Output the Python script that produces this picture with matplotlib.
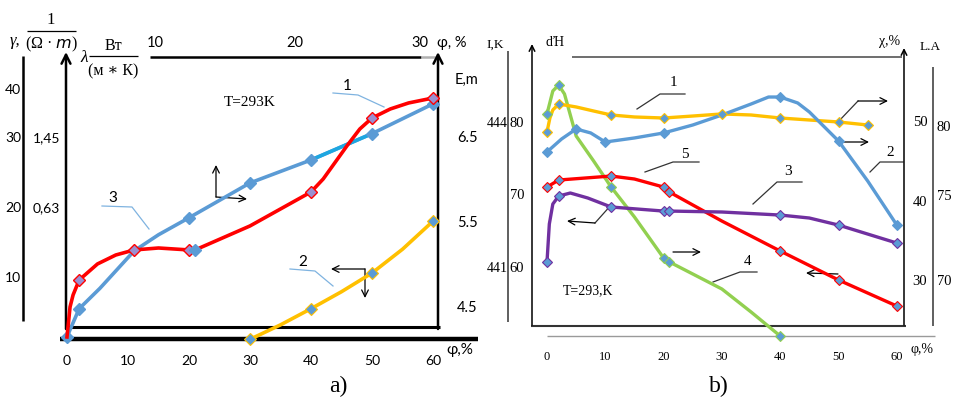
import numpy as np
import matplotlib.pyplot as plt

# ---------------- panel a) : values vs phi, % ----------------
# curve 3 (blue), read in E, m units (right scale)
phi_blue_a = [0, 2, 5.4, 11, 15, 20, 30, 40, 50, 60]
E_blue_a = [4.15, 4.48, 4.72, 5.16, 5.35, 5.55, 5.96, 6.23, 6.54, 6.89]
mark_blue_a = [0, 1, 5, 6, 7, 8, 9]

# curve 1 (red), read in gamma units (left scale)
phi_red_a = [0, 0.5, 1, 2, 5, 8, 11, 15, 20, 21, 30, 40, 42, 44, 46, 48, 50, 53, 56, 60]
g_red_a = [1.43, 5.71, 7.43, 9.57, 11.86, 13.14, 13.86, 14.14, 13.86, 13.86, 17.29,
           22.14, 24.0, 26.43, 28.86, 31.14, 32.71, 34.0, 34.86, 35.57]
mark_red_a = [3, 6, 8, 11, 16, 19]

# curve 2 (yellow), read in E, m units
phi_yel_a = [30, 35, 40, 45, 50, 55, 60]
E_yel_a = [4.12, 4.29, 4.48, 4.68, 4.90, 5.18, 5.51]
mark_yel_a = [0, 2, 4, 6]

x_ticks_a = [0, 10, 20, 30, 40, 50, 60]
top_ticks_a = ['10', '20', '30']
top_pos_a = [155, 295, 420]   # top scale drawn separately (pixels)
gamma_ticks = ['10', '20', '30', '40']
gamma_pos = [10, 20, 30, 36.9]
lam_ticks = ['0,63', '1,45']
lam_pos = [20, 30]
E_ticks = [4.5, 5.5, 6.5]

# ---------------- panel b) ----------------
# curves 1, 2, 4 read on the chi, % scale (right); 3, 5 on the dH scale (left)
phi_yel_b = [0, 0.5, 1, 2, 5, 8, 11, 15, 20, 25, 30, 35, 40, 50, 55]
chi_yel_b = [48.74, 50.5, 51.51, 52.26, 51.89, 51.38, 50.88, 50.63, 50.5, 50.75,
             51.01, 50.88, 50.5, 50.0, 49.62]
mark_yel_b = [0, 3, 6, 8, 10, 12, 13, 14]

phi_blue_b = [0, 2.5, 5, 7.5, 10, 15, 20, 25, 30, 35, 38, 40, 43, 45, 50, 55, 60]
chi_blue_b = [46.23, 47.86, 49.12, 48.62, 47.48, 47.99, 48.62, 49.62, 50.88, 52.26,
              53.14, 53.14, 52.39, 51.26, 47.61, 42.58, 37.04]
mark_blue_b = [0, 2, 4, 6, 11, 14, 16]

phi_grn_b = [0, 1, 2, 3, 5, 8, 11, 15, 20, 21, 25, 30, 35, 40]
chi_grn_b = [51.01, 53.9, 54.65, 53.52, 48.24, 45.09, 41.82, 38.05, 32.89, 32.39,
             30.88, 28.99, 26.1, 23.08]
mark_grn_b = [0, 2, 6, 8, 9, 13]

phi_red_b = [0, 2, 11, 15, 20, 21, 30, 40, 50, 60]
dH_red_b = [71.03, 72.0, 72.55, 72.14, 71.03, 70.34, 66.34, 62.21, 58.21, 54.62]
mark_red_b = [0, 1, 2, 4, 5, 7, 8, 9]

phi_pur_b = [0, 0.4, 1, 2, 4, 7, 11, 20, 21, 30, 40, 45, 50, 55, 60]
dH_pur_b = [60.69, 65.93, 68.69, 69.79, 70.21, 69.52, 68.28, 67.72, 67.72, 67.59,
            67.17, 66.76, 65.79, 64.55, 63.31]
mark_pur_b = [0, 3, 6, 7, 8, 10, 12, 14]

x_ticks_b = [0, 10, 20, 30, 40, 50, 60]
dH_ticks = [80, 70, 60]
IK_ticks = ['444', '441']
IK_pos = [80, 60]
chi_ticks = [50, 40, 30]
LA_ticks = ['80', '75', '70']
LA_pos = [49.4, 40.7, 30.0]

BLUE = '#5b9bd5'
RED = '#ff0000'
YEL = '#ffc000'
GRN = '#92d050'
PUR = '#7030a0'
CYAN = '#1ea7e1'
SANS = 'Lato'
SERIF = ['Liberation Serif', 'DejaVu Serif']

fig = plt.figure(figsize=(9.55, 4.06), dpi=100)

# decoration layer in pixel coordinates (y down)
deco = fig.add_axes([0, 0, 1, 1])
deco.set_xlim(0, 955)
deco.set_ylim(406, 0)
deco.axis('off')


def seg(x0, y0, x1, y1, lw=2, c='black'):
    deco.plot([x0, x1], [y0, y1], color=c, lw=lw, solid_capstyle='butt')


def arrow(x0, y0, x1, y1, lw=1.0, c='black', ms=14):
    deco.annotate('', xy=(x1, y1), xytext=(x0, y0),
                  arrowprops=dict(arrowstyle='->', lw=lw, color=c,
                                  mutation_scale=ms, shrinkA=0, shrinkB=0))


# ---- panel a frame ----
seg(23, 57, 23, 322, lw=1.8)
arrow(66, 330, 66, 53, lw=1.8, ms=16)
arrow(438, 330, 438, 53, lw=1.8, ms=16)
seg(150, 58, 421, 58, lw=1.8)
seg(421, 58, 436, 58, lw=1.8, c='#b0b0b0')
seg(65, 328, 440, 328, lw=2.2)
seg(60, 340, 478, 340, lw=3.2)

# header of panel a
deco.text(10, 41, 'γ,', fontsize=12, family=SERIF, style='italic', va='center')
deco.text(51, 20, '1', fontsize=12, family=SERIF, ha='center', va='center')
seg(27, 32, 76, 32, lw=0.9)
deco.text(51, 44, '(Ω · $m$)', fontsize=11.5, family=SERIF, ha='center', va='center')
deco.text(80, 58, 'λ', fontsize=12.5, family=SERIF, style='italic', va='center')
deco.text(113, 46, 'Вт', fontsize=11.5, family=SERIF, ha='center', va='center')
seg(89, 57, 138, 57, lw=0.9)
deco.text(113, 71, '(м ∗ К)', fontsize=11.5, family=SERIF, ha='center', va='center')
deco.text(250, 103, 'T=293K', fontsize=11, family=SERIF, ha='center', va='center')
deco.text(455, 80, 'E,m', fontsize=10.5, family=SANS, va='center')
deco.text(460, 350, 'φ,%', fontsize=11, family=SANS, ha='center', va='center')
for lab, p in zip(top_ticks_a, top_pos_a):
    deco.text(p, 43, lab, fontsize=10.5, family=SANS, ha='center', va='center')
deco.text(452, 43, 'φ, %', fontsize=10.5, family=SANS, ha='center', va='center')

# leader lines and arrows panel a
deco.plot([333, 358, 384], [94, 96, 108], color='#7fb3e0', lw=0.9)
deco.text(347, 86, '1', fontsize=11, family=SANS, ha='center', va='center')
deco.plot([102, 132, 149], [207, 208, 230], color='#7fb3e0', lw=0.9)
deco.text(113, 198, '3', fontsize=11, family=SANS, ha='center', va='center')
deco.plot([290, 315, 333], [270, 272, 287], color='#7fb3e0', lw=0.9)
deco.text(303, 262, '2', fontsize=11, family=SANS, ha='center', va='center')
arrow(216, 198, 216, 166, lw=0.9, ms=12)
arrow(216, 198, 247, 200, lw=0.9, ms=12)
arrow(365, 270, 331, 270, lw=0.9, ms=12)
arrow(365, 270, 365, 299, lw=0.9, ms=12)

# ---- panel b frame ----
seg(508, 52, 508, 323, lw=1.2, c='#444444')
arrow(532, 326, 532, 45, lw=1.1, ms=10)
arrow(904, 326, 904, 49, lw=1.1, ms=10)
seg(572, 58, 902, 58, lw=1.2, c='#555555')
seg(531, 327, 906, 327, lw=1.5, c='#333333')
seg(547, 337, 935, 337, lw=1.0, c='#9a9a9a')
seg(933, 68, 933, 327, lw=1.2, c='#444444')

deco.text(486, 45, 'I,K', fontsize=9.5, family=SERIF, va='center')
deco.text(545, 43, 'ďH', fontsize=10, family=SERIF, va='center')
deco.text(890, 42, 'χ,%', fontsize=10, family=SERIF, ha='center', va='center')
deco.text(920, 47, 'L.A', fontsize=9.5, family=SERIF, va='center')
deco.text(588, 291, 'T=293,K', fontsize=10, family=SERIF, ha='center', va='center')
deco.text(922, 350, 'φ,%', fontsize=10, family=SERIF, ha='center', va='center')

lead = '#333333'
deco.plot([637, 660, 685], [110, 95, 95], color=lead, lw=0.9)
deco.text(673, 82, '1', fontsize=11, family=SERIF, ha='center', va='center')
deco.plot([870, 880, 903], [173, 163, 163], color=lead, lw=0.9)
deco.text(890, 153, '2', fontsize=11, family=SERIF, ha='center', va='center')
deco.plot([753, 777, 802], [205, 183, 183], color=lead, lw=0.9)
deco.text(788, 172, '3', fontsize=11, family=SERIF, ha='center', va='center')
deco.plot([713, 740, 757], [283, 273, 273], color=lead, lw=0.9)
deco.text(748, 262, '4', fontsize=11, family=SERIF, ha='center', va='center')
deco.plot([645, 673, 699], [173, 163, 163], color=lead, lw=0.9)
deco.text(685, 155, '5', fontsize=11, family=SERIF, ha='center', va='center')

deco.plot([838, 858], [123, 102], color=lead, lw=0.9)
arrow(858, 102, 888, 102, lw=0.9, ms=12)
arrow(842, 143, 869, 143, lw=0.9, ms=12)
deco.plot([612, 595], [205, 224], color=lead, lw=0.9)
arrow(595, 224, 567, 222, lw=0.9, ms=12)
arrow(673, 253, 701, 253, lw=0.9, ms=12)
arrow(838, 275, 806, 274, lw=0.9, ms=12)

deco.text(338, 386, 'a)', fontsize=17, family=SERIF, ha='center', va='center')
deco.text(719, 386, 'b)', fontsize=17, family=SERIF, ha='center', va='center')

# ---------------- data axes panel a ----------------
axa = fig.add_axes([0, 0, 480 / 955, 1])
axa.set_xlim(-10.98, 67.70)
axa.set_ylim(3.347, 8.124)
axa.axis('off')
axg = axa.twinx()
axg.set_ylim(-8.29, 49.71)
axg.axis('off')

lw_a = 2.6
axa.plot(phi_blue_a, E_blue_a, color=BLUE, lw=lw_a, zorder=3)
axa.plot(phi_blue_a[7:9], E_blue_a[7:9], color=CYAN, lw=lw_a, zorder=3)
axa.plot(np.array(phi_blue_a)[mark_blue_a], np.array(E_blue_a)[mark_blue_a], 'D',
         color=BLUE, ms=6, zorder=5)
axa.plot(phi_yel_a, E_yel_a, color=YEL, lw=lw_a, zorder=3)
axa.plot(np.array(phi_yel_a)[mark_yel_a], np.array(E_yel_a)[mark_yel_a], 'D',
         mfc=BLUE, mec=YEL, mew=0.8, ms=6, zorder=5)
axg.plot(phi_red_a, g_red_a, color=RED, lw=lw_a, zorder=4)
axg.plot(np.array(phi_red_a)[mark_red_a], np.array(g_red_a)[mark_red_a], 'D',
         mfc='#9b8fd0', mec=RED, mew=1.0, ms=6.5, zorder=6)
axg.plot(phi_red_a[9], g_red_a[9], 'D', color=BLUE, ms=6, zorder=6)

for v in x_ticks_a:
    axa.text(v, 1 - 361 / 406, str(v), transform=axa.get_xaxis_transform(),
             fontsize=10, family=SANS, ha='center', va='center')
for lab, p in zip(gamma_ticks, gamma_pos):
    axg.text(5 / 480, p, lab, transform=axg.get_yaxis_transform(),
             fontsize=10, family=SANS, va='center')
for lab, p in zip(lam_ticks, lam_pos):
    axg.text(33 / 480, p, lab, transform=axg.get_yaxis_transform(),
             fontsize=10, family=SANS, va='center')
for v in E_ticks:
    axa.text(457 / 480, v, str(v), transform=axa.get_yaxis_transform(),
             fontsize=10.5, family=SANS, va='center')

# ---------------- data axes panel b ----------------
axb = fig.add_axes([480 / 955, 0, 475 / 955, 1])
axb.set_xlim(-11.49, 69.98)
axb.set_ylim(14.40, 65.47)
axb.axis('off')
axh = axb.twinx()
axh.set_ylim(40.97, 96.97)
axh.axis('off')

lw_b = 2.4
ms_b = 5.5
for ax, xs, ys, mk, col in [
        (axb, phi_grn_b, chi_grn_b, mark_grn_b, GRN),
        (axb, phi_yel_b, chi_yel_b, mark_yel_b, YEL),
        (axb, phi_blue_b, chi_blue_b, mark_blue_b, BLUE),
        (axh, phi_red_b, dH_red_b, mark_red_b, RED),
        (axh, phi_pur_b, dH_pur_b, mark_pur_b, PUR)]:
    ax.plot(xs, ys, color=col, lw=lw_b, zorder=3)
    ax.plot(np.array(xs)[mk], np.array(ys)[mk], 'D', mfc=BLUE, mec=col,
            mew=0.8, ms=ms_b, zorder=5)

for v in x_ticks_b:
    axb.text(v, 1 - 357 / 406, str(v), transform=axb.get_xaxis_transform(),
             fontsize=9, family=SERIF, ha='center', va='center')
for v in dH_ticks:
    axh.text((517 - 480) / 475, v, str(v), transform=axh.get_yaxis_transform(),
             fontsize=10.5, family=SERIF, ha='center', va='center')
for lab, p in zip(IK_ticks, IK_pos):
    axh.text((497 - 480) / 475, p, lab, transform=axh.get_yaxis_transform(),
             fontsize=10, family=SERIF, ha='center', va='center')
for v in chi_ticks:
    axb.text((920 - 480) / 475, v, str(v), transform=axb.get_yaxis_transform(),
             fontsize=10.5, family=SERIF, ha='center', va='center')
for lab, p in zip(LA_ticks, LA_pos):
    axb.text((944 - 480) / 475, p, lab, transform=axb.get_yaxis_transform(),
             fontsize=10.5, family=SERIF, ha='center', va='center')

fig.savefig('out.png', dpi=100)
